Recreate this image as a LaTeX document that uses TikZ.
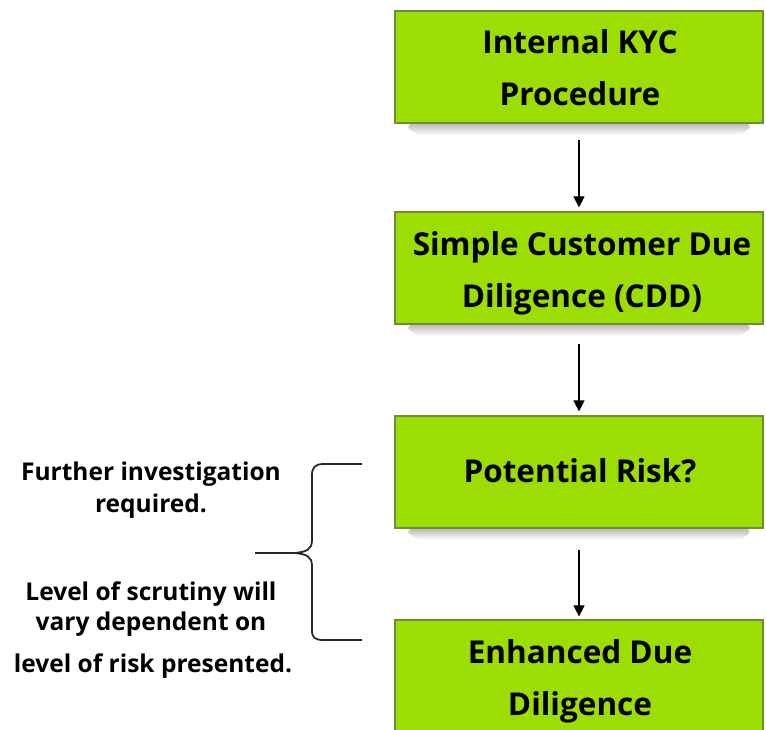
\documentclass[tikz,border=0pt]{standalone}
\usepackage{fontspec}
\setmainfont{Open Sans}
\usetikzlibrary{arrows.meta}
\definecolor{boxgreen}{RGB}{156,221,4}
\definecolor{boxedge}{RGB}{112,140,52}
\definecolor{bracegray}{RGB}{40,40,40}
\tikzset{
  kycbox/.style={draw=boxedge, line width=1.2pt, fill=boxgreen, minimum width=368pt, minimum height=112pt, inner sep=0pt},
  boxshadow/.style={top color=black!28, bottom color=white, draw=none},
  boxtext/.style={font=\fontsize{31.5}{36}\selectfont\bfseries, inner sep=0pt, anchor=base},
  sidetext/.style={font=\fontsize{24.5}{28}\selectfont\bfseries, inner sep=0pt, anchor=base},
  flowarrow/.style={line width=1.1pt, -{Triangle[length=11pt,width=11pt]}},
  bracepath/.style={draw=bracegray, line width=1.8pt}
}
\begin{document}
\begin{tikzpicture}[x=1pt,y=-1pt]
\useasboundingbox (0,0) rectangle (766,730);
% shadows
\foreach \yc in {67,268,472} {
  \shade[boxshadow] (412,\yc+56) -- (746,\yc+56) .. controls (752,\yc+60) .. (740,\yc+68) -- (418,\yc+68) .. controls (406,\yc+60) .. (412,\yc+56) -- cycle;
}
% boxes
\node[kycbox] (b1) at (579,67) {};
\node[kycbox] (b2) at (579,268) {};
\node[kycbox] (b3) at (579,472) {};
\node[kycbox] (b4) at (579,676) {};
% box texts
\node[boxtext] (t1a) at (580,54) {Internal KYC};
\node[boxtext] (t1b) at (580,106) {Procedure};
\node[boxtext] (t2a) at (582,255) {Simple Customer Due};
\node[boxtext] (t2b) at (582,307) {Diligence (CDD)};
\node[boxtext] (t3) at (580,482) {Potential Risk?};
\node[boxtext] (t4a) at (580,663) {Enhanced Due};
\node[boxtext] (t4b) at (580,715) {Diligence};
% arrows
\draw[flowarrow] ([yshift=-16pt]b1.south) -- ([yshift=4pt]b2.north);
\draw[flowarrow] ([yshift=-19pt]b2.south) -- ([yshift=4pt]b3.north);
\draw[flowarrow] ([yshift=-21pt]b3.south) -- ([yshift=3pt]b4.north);
% brace
\coordinate (brtop) at (362,464);
\coordinate (brtip) at (255,553);
\coordinate (brbot) at (362,640);
\draw[bracepath] (brtop) -- (324,464) .. controls (314,464) and (312,468) .. (312,476)
  -- (312,540) .. controls (312,550) and (306,552) .. (294,553) -- (brtip);
\draw[bracepath] (294,553) .. controls (306,554) and (312,556) .. (312,566)
  -- (312,630) .. controls (312,638) and (315,640) .. (324,640) -- (brbot);
% side texts
\node[sidetext] (s1) at (151,480) {Further investigation};
\node[sidetext] (s2) at (151,512) {required.};
\node[sidetext] (s3) at (151,600) {Level of scrutiny will};
\node[sidetext] (s4) at (151,630) {vary dependent on};
\node[sidetext] (s5) at (153,672) {level of risk presented.};
\end{tikzpicture}
\end{document}
